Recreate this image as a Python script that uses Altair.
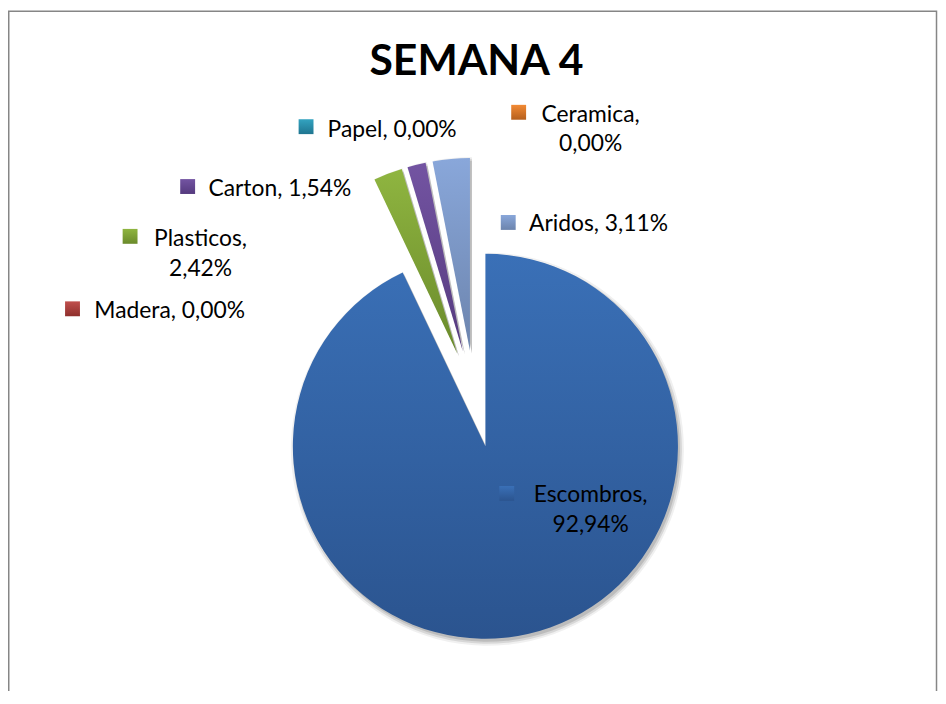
import altair as alt
import pandas as pd

# ---------------- data ----------------
categories = ["Escombros", "Madera", "Plasticos", "Carton", "Papel", "Ceramica", "Aridos"]
values = [92.94, 0.00, 2.42, 1.54, 0.00, 0.00, 3.11]
title_text = "SEMANA 4"

# ---------------- styles ----------------
COLOR_TOP = {
    "Escombros": "#3a70b7", "Madera": "#c0504d", "Plasticos": "#8fb540",
    "Carton": "#7354a2", "Papel": "#33a3c0", "Ceramica": "#f28a34", "Aridos": "#89a7da",
}
COLOR_BOTTOM = {
    "Escombros": "#2b548f", "Madera": "#8f2f2c", "Plasticos": "#6a8a2b",
    "Carton": "#553a7e", "Papel": "#1f7590", "Ceramica": "#b55f1c", "Aridos": "#6c84ad",
}
FONT = "Lato"
LABEL_SIZE = 23
TEXT_COLOR = "#000000"

# pie layout (chart pixel coordinates)
CX, CY, R, EXPLODE = 470.2, 391.2, 194, 49

# data label layout: legend key centre, text anchor, two-line flag
LABEL_LAYOUT = {
    "Escombros": dict(kx=502.5, ky=486.5, tx=587, ty=495, wrap=True),
    "Madera": dict(kx=65, ky=300.5, tx=87, ty=309.7, wrap=False),
    "Plasticos": dict(kx=123, ky=227.5, tx=194, ty=237, wrap=True),
    "Carton": dict(kx=181, ky=177.3, tx=202, ty=187, wrap=False),
    "Papel": dict(kx=300.3, ky=117, tx=322, ty=127, wrap=False),
    "Ceramica": dict(kx=514.5, ky=102.5, tx=587, ty=112, wrap=True),
    "Aridos": dict(kx=504, ky=213.5, tx=525, ty=222, wrap=False),
}
KEY = 15


def fmt(v):
    return f"{v:.2f}%".replace(".", ",")


def grad(cat):
    return alt.LinearGradient(
        gradient="linear",
        stops=[alt.GradientStop(offset=0, color=COLOR_TOP[cat]),
               alt.GradientStop(offset=1, color=COLOR_BOTTOM[cat])],
        x1=0, x2=0, y1=0, y2=1,
    )


slices = pd.DataFrame({"category": categories, "value": values, "order": list(range(len(categories)))})

rows = []
for c, v in zip(categories, values):
    lay = LABEL_LAYOUT[c]
    sep = "\n" if lay["wrap"] else " "
    rows.append(dict(category=c, label=f"{c},{sep}{fmt(v)}", **lay))
labels = pd.DataFrame(rows)

# ---------------- chart ----------------
base = alt.Chart(slices).transform_window(
    cum="sum(value)", sort=[alt.SortField("order")], frame=[None, 0]
).transform_joinaggregate(total="sum(value)").transform_calculate(
    t1="2*PI*datum.cum/datum.total",
    t0="2*PI*(datum.cum-datum.value)/datum.total",
    mid="(datum.t0+datum.t1)/2",
    px=f"{CX}+{EXPLODE}*sin(datum.mid)",
    py=f"{CY}-{EXPLODE}*cos(datum.mid)",
    sx="datum.px+2",
    sy="datum.py+3",
)

enc = dict(
    theta=alt.Theta("t0:Q", scale=None, stack=None),
    theta2="t1:Q",
)

layers = []

# frame
frame = alt.Chart(pd.DataFrame({"t": [title_text]})).mark_rect(
    filled=False, stroke="#868686", strokeWidth=1.5
).encode(x=alt.value(0.75), x2=alt.value(935.5), y=alt.value(0.75), y2=alt.value(760))
layers.append(frame)

# soft shadows
for op, extra in [(0.06, 4), (0.10, 2), (0.12, 0)]:
    layers.append(
        base.mark_arc(radius=R + extra, fill="#000000", opacity=op).encode(
            x=alt.X("sx:Q", scale=None, axis=None), y=alt.Y("sy:Q", scale=None, axis=None), **enc
        )
    )

# slices
for c in categories:
    layers.append(
        base.transform_filter(alt.datum.category == c).mark_arc(radius=R, fill=grad(c)).encode(
            x=alt.X("px:Q", scale=None, axis=None), y=alt.Y("py:Q", scale=None, axis=None), **enc
        )
    )

# legend keys
lab = alt.Chart(labels)
for c in categories:
    layers.append(
        lab.transform_filter(alt.datum.category == c).transform_calculate(
            x0=f"datum.kx-{KEY / 2}", x1=f"datum.kx+{KEY / 2}",
            y0=f"datum.ky-{KEY / 2}", y1=f"datum.ky+{KEY / 2}",
        ).mark_rect(fill=grad(c)).encode(
            x=alt.X("x0:Q", scale=None, axis=None), x2="x1:Q",
            y=alt.Y("y0:Q", scale=None, axis=None), y2="y1:Q",
        )
    )

# label texts
for wrap, align in [(False, "left"), (True, "center")]:
    layers.append(
        lab.transform_filter(alt.datum.wrap == wrap).mark_text(
            align=align, baseline="alphabetic", font=FONT, fontSize=LABEL_SIZE,
            color=TEXT_COLOR, lineBreak="\n", lineHeight=30,
        ).encode(
            x=alt.X("tx:Q", scale=None, axis=None), y=alt.Y("ty:Q", scale=None, axis=None),
            text="label:N",
        )
    )

# title
layers.append(
    alt.Chart(pd.DataFrame({"t": [title_text]})).mark_text(
        align="center", baseline="alphabetic", font=FONT, fontSize=43, fontWeight="bold", color=TEXT_COLOR
    ).encode(x=alt.value(472), y=alt.value(65), text="t:N")
)

chart = alt.layer(*layers).properties(
    width=937, height=683, padding=0, autosize="none", background="white"
).configure_view(strokeWidth=0)

chart.save("out.html", embed_options={"renderer": "svg", "actions": False})
